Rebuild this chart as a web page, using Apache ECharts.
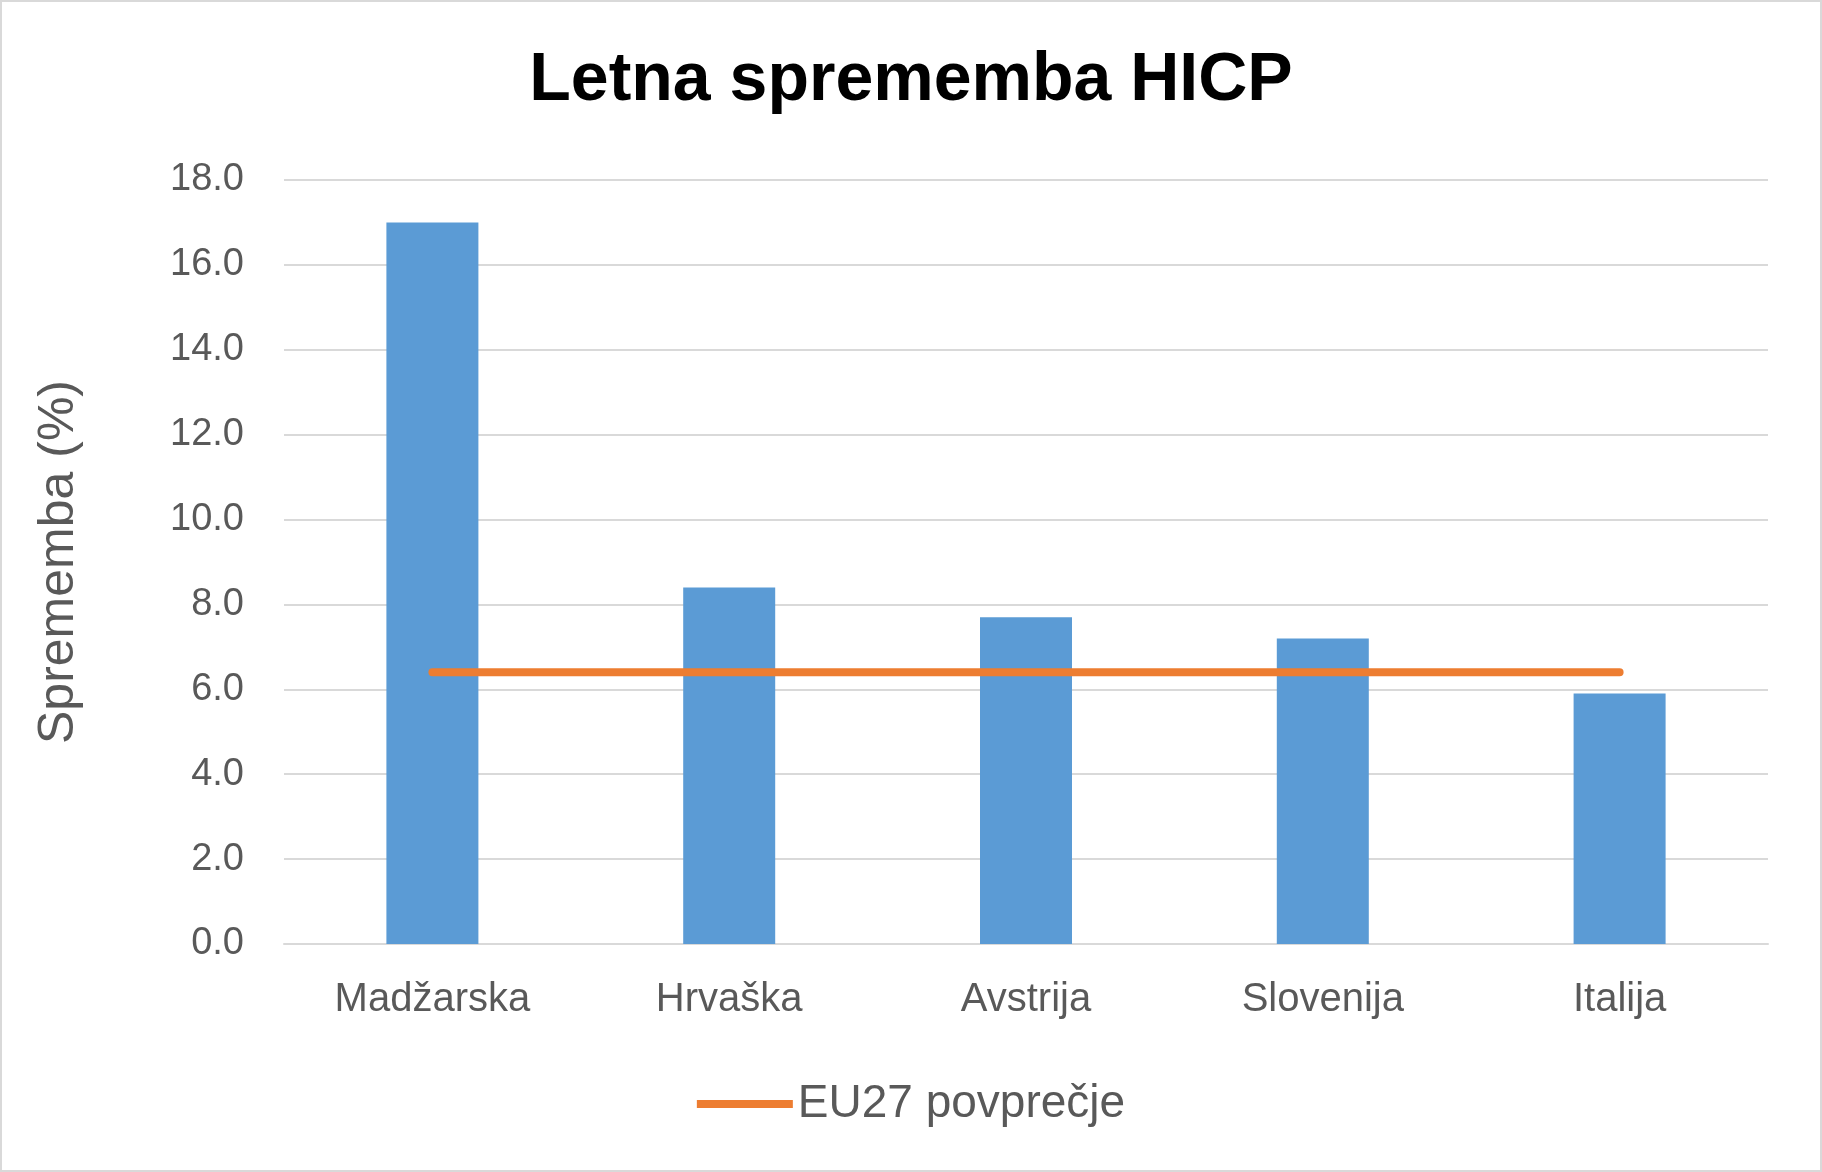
<!DOCTYPE html>
<html>
<head>
<meta charset="utf-8">
<script src="https://cdn.jsdelivr.net/npm/echarts@6/dist/echarts.min.js"></script>
<style>
html, body { margin: 0; padding: 0; background: #fff; }
#chart { width: 1818px; height: 1168px; border: 2px solid #d9d9d9; }
</style>
</head>
<body>
<div id="chart"></div>
<script>
const countries = ['Madžarska', 'Hrvaška', 'Avstrija', 'Slovenija', 'Italija'];
const hicp = [17.0, 8.4, 7.7, 7.2, 5.9];
const eu27 = [6.4, 6.4, 6.4, 6.4, 6.4];

const chart = echarts.init(document.getElementById('chart'));
chart.setOption({
    animation: false,
    title: {
        text: 'Letna sprememba HICP',
        left: 'center',
        top: 40,
        textStyle: { fontFamily: 'Liberation Sans', fontSize: 68, fontWeight: 'bold', color: '#000' }
    },
    legend: {
        data: [{ name: 'EU27 povprečje', icon: 'rect' }],
        bottom: 38,
        left: 'center',
        itemWidth: 96,
        itemHeight: 8,
        textStyle: { fontFamily: 'Liberation Sans', fontSize: 46, color: '#595959' }
    },
    grid: { left: 282, right: 52, top: 178, bottom: 226 },
    xAxis: {
        type: 'category',
        data: countries,
        axisTick: { show: false },
        axisLine: { lineStyle: { color: '#d9d9d9', width: 2 } },
        axisLabel: { fontFamily: 'Liberation Sans', fontSize: 40, color: '#595959', margin: 36 }
    },
    yAxis: {
        type: 'value',
        min: 0,
        max: 18,
        interval: 2,
        name: 'Sprememba (%)',
        nameLocation: 'middle',
        nameGap: 200,
        nameTextStyle: { fontFamily: 'Liberation Sans', fontSize: 50, color: '#595959' },
        axisLabel: {
            fontFamily: 'Liberation Sans', fontSize: 38, color: '#595959', margin: 40,
            formatter: v => v.toFixed(1)
        },
        splitLine: { lineStyle: { color: '#d9d9d9', width: 2 } }
    },
    series: [
        {
            name: 'HICP',
            type: 'bar',
            data: hicp,
            barWidth: 92,
            itemStyle: { color: '#5b9bd5' }
        },
        {
            name: 'EU27 povprečje',
            type: 'line',
            data: eu27,
            symbol: 'none',
            lineStyle: { color: '#ed7d31', width: 8, cap: 'round' },
            itemStyle: { color: '#ed7d31' }
        }
    ]
});
</script>
</body>
</html>
